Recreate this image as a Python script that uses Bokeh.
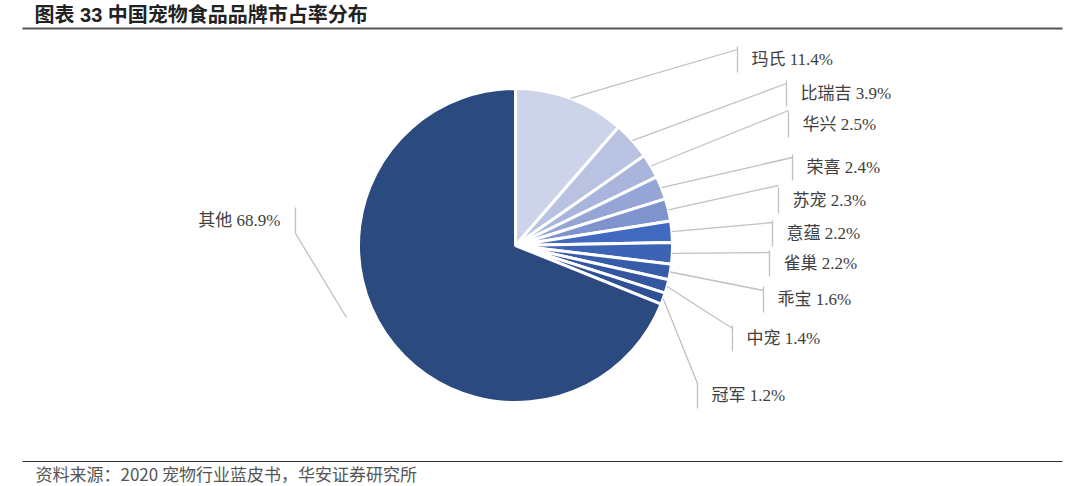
import math
from bokeh.plotting import figure, ColumnDataSource
from bokeh.models import Range1d, Label
from bokeh.embed import file_html
from bokeh.resources import INLINE

# data
brands = ["玛氏", "比瑞吉", "华兴", "荣喜", "苏宠", "意蕴", "雀巢", "乖宝", "中宠", "冠军", "其他"]
shares = [11.4, 3.9, 2.5, 2.4, 2.3, 2.2, 2.2, 1.6, 1.4, 1.2, 68.9]

# styling
palette = ["#cdd3e8", "#b9c2e1", "#a9b5dc", "#95a6d6", "#7f94cf", "#4169c0",
           "#3c63b4", "#375ca8", "#33569e", "#2f5095", "#2b4a80"]

W, H = 1080, 486
def Y(py):
    # page pixel row -> data y
    return H - py

cx, cy, r = 515, 245, 157

# label layout (page pixels): tick x, leader end y, label y
tick_x = [737, 786, 788, 792, 778, 772, 769, 763, 732, 697, 295]
hit_y = [49, 83, 110, 157, 185, 222, 252, 290, 328, 383, 233]
lab_y = [59, 93, 124, 167, 200, 233, 263, 299, 338, 395, 220]

p = figure(width=W, height=H, output_backend="svg", toolbar_location=None,
           x_range=Range1d(0, W), y_range=Range1d(0, H), min_border=0)
p.axis.visible = False
p.grid.visible = False
p.outline_line_color = None

# wedges, clockwise from 12 o'clock
total = sum(shares)
starts, ends, mids = [], [], []
acc = 0.0
for s in shares:
    a0 = math.pi / 2 - 2 * math.pi * acc / total
    acc += s
    a1 = math.pi / 2 - 2 * math.pi * acc / total
    starts.append(a0)
    ends.append(a1)
    mids.append((a0 + a1) / 2)

src = ColumnDataSource(dict(brand=brands, share=shares, start=starts, end=ends, color=palette))
p.wedge(x=cx, y=Y(cy), radius=r, start_angle="start", end_angle="end", direction="clock",
        fill_color="color", line_color="white", line_width=3, source=src)

# leader lines and ticks
x0s, y0s, x1s, y1s = [], [], [], []
for i, b in enumerate(brands):
    if b == "其他":
        sx, sy = 346, Y(317)
    else:
        sx = cx + r * math.cos(mids[i])
        sy = Y(cy) + r * math.sin(mids[i])
    x0s.append(sx); y0s.append(sy)
    x1s.append(tick_x[i]); y1s.append(Y(hit_y[i]))
    x0s.append(tick_x[i]); y0s.append(Y(lab_y[i] - 13))
    x1s.append(tick_x[i]); y1s.append(Y(lab_y[i] + 13))
p.segment(x0=x0s, y0=y0s, x1=x1s, y1=y1s, line_color="#c0c0c0", line_width=1.3)

lab_font = "Liberation Serif, Noto Sans CJK SC"
for i, b in enumerate(brands):
    txt = f"{b} {shares[i]}%"
    left = b == "其他"
    p.add_layout(Label(x=tick_x[i] - 15 if left else tick_x[i] + 14, y=Y(lab_y[i]), text=txt,
                       text_align="right" if left else "left", text_baseline="middle",
                       text_font=lab_font, text_font_size="17px", text_color="#404040"))

# title, rules, source
p.add_layout(Label(x=34, y=Y(14), text="图表 33  中国宠物食品品牌市占率分布", text_baseline="middle",
                   text_font="Liberation Sans, Noto Sans CJK SC", text_font_style="bold",
                   text_font_size="20px", text_color="#222222"))
p.segment(x0=[22, 22], y0=[Y(28), Y(461)], x1=[1062, 1062], y1=[Y(28), Y(461)],
          line_color=["#555555", "#333333"], line_width=[2, 1.2])
p.add_layout(Label(x=35, y=Y(473), text="资料来源：2020 宠物行业蓝皮书，华安证券研究所",
                   text_baseline="middle", text_font="Noto Sans CJK SC",
                   text_font_size="17px", text_color="#555555"))

open("out.html", "w").write(file_html(p, INLINE))
